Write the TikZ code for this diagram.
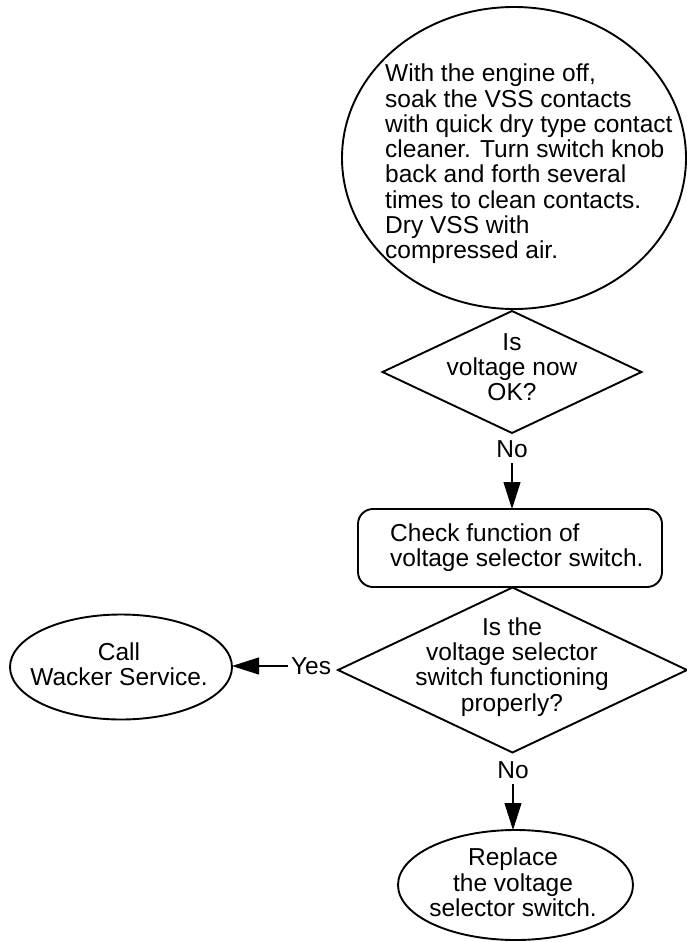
\documentclass[tikz,border=0pt]{standalone}
\usepackage{fontspec}
\setmainfont{Liberation Sans}
\usetikzlibrary{shapes.geometric,arrows.meta}
\begin{document}
\begin{tikzpicture}[x=1pt,y=-1pt,
  shp/.style={draw, line width=1.9pt, inner sep=0pt, outer sep=0pt},
  txt/.style={inner sep=0pt, font=\fontsize{24.5}{25.3}\selectfont, align=center},
  ltxt/.style={inner sep=0pt, font=\fontsize{24.5}{25.3}\selectfont, align=left},
  arr/.style={line width=1.1pt, -{Triangle[length=27pt,width=17pt]}}]
\useasboundingbox (0,0) rectangle (687,942);

% top ellipse
\node[shp, ellipse, minimum width=344pt, minimum height=302pt] (E1) at (514,158) {};
\node[ltxt, anchor=west] (E1t) at (385,164) {With the engine off,\\soak the VSS contacts\\with quick dry type contact\\cleaner. Turn switch knob\\back and forth several\\times to clean contacts.\\Dry VSS with\\compressed air.};

% first decision
\node[shp, diamond, minimum width=259pt, minimum height=122pt] (D1) at (512,372) {};
\node[txt] (D1t) at (512,367) {Is\\voltage now\\OK?};
\node[txt] (no1) at (512,449) {No};

% check box
\node[shp, rectangle, rounded corners=15pt, minimum width=304pt, minimum height=78pt] (R) at (510,548) {};
\node[ltxt, anchor=west] (Rt) at (390,548) {Check function of\\voltage selector switch.};

% second decision
\node[shp, diamond, minimum width=349pt, minimum height=165pt] (D2) at (512.5,670) {};
\node[txt] (D2t) at (512,667) {Is the\\voltage selector\\switch functioning\\properly?};
\node[txt] (yes) at (311,666) {Yes};
\node[txt] (no2) at (513,770) {No};

% end ellipses
\node[shp, ellipse, minimum width=222pt, minimum height=105pt] (E2) at (121,667) {};
\node[txt] (E2t) at (119,664.5) {Call\\Wacker Service.};
\node[shp, ellipse, minimum width=235pt, minimum height=110pt] (E3) at (515.5,885) {};
\node[txt] (E3t) at (513,882.5) {Replace\\the voltage\\selector switch.};

% connectors
\draw[arr, shorten <=5pt] (no1.south) -- (no1.south |- R.north);
\draw[arr, shorten <=3pt] (yes.west) -- (yes.west -| E2.east);
\draw[arr, shorten <=5pt] (no2.south) -- (no2.south |- E3.north);
\end{tikzpicture}
\end{document}
